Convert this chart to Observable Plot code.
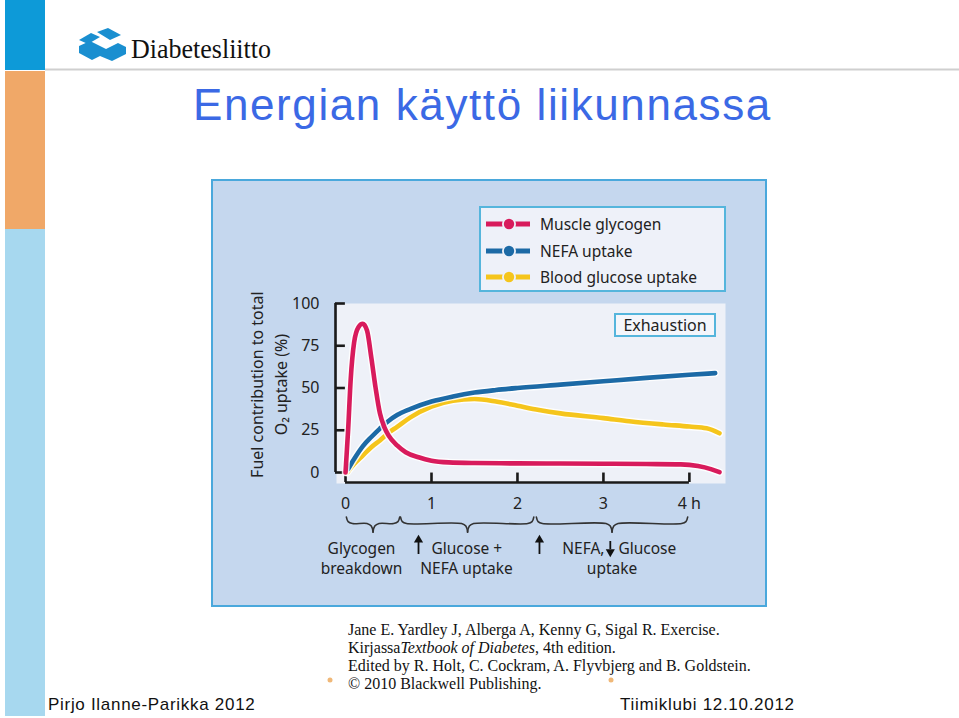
<!DOCTYPE html>
<html><head><meta charset="utf-8">
<script src="https://cdn.jsdelivr.net/npm/d3@7"></script>
<script src="https://cdn.jsdelivr.net/npm/@observablehq/plot@0.6"></script>
<style>
body{margin:0;background:#fff;}
#page{position:relative;width:959px;height:718px;overflow:hidden;background:#fff;font-family:"Noto Sans",sans-serif;}
#deco{position:absolute;left:0;top:0;}
#panel{position:absolute;left:211px;top:179px;width:556px;height:428px;box-sizing:border-box;border:2px solid #4aa8dc;background:#c5d7ee;}
#chart{position:absolute;left:211px;top:179px;width:556px;height:428px;}
#legend{position:absolute;left:479px;top:206px;width:247px;height:86px;box-sizing:border-box;border:2.5px solid #55b5dc;background:#eef1f9;}
.lrow{position:absolute;left:4px;height:20px;display:flex;align-items:center;font-size:15.5px;color:#222;}
.lrow svg{margin-right:9px;}
#exh{position:absolute;left:614px;top:313px;width:102px;height:24px;box-sizing:border-box;border:2px solid #55b5dc;background:#f4f6fb;font-size:16px;line-height:20px;text-align:center;color:#222;}
</style></head>
<body>
<div id="page">
<svg id="deco" width="959" height="718">
  <rect x="5" y="0" width="40" height="70" fill="#0d9ad8"/>
  <rect x="5" y="71" width="40" height="158" fill="#f0a868"/>
  <rect x="5" y="229" width="40" height="487" fill="#a7d8ef"/>
  <line x1="45" x2="959" y1="69.5" y2="69.5" stroke="#cfcfcf" stroke-width="2"/>
  <polygon points="79,40 91,33 100,37 88,44" fill="#1a8fd0"/>
  <polygon points="97,32 108,28 121,35 110,40" fill="#1a8fd0"/>
  <polygon points="79,46 90,41 106,49 118,43 126,47 126,54 112,61 100,56 92,60 79,53" fill="#1a8fd0"/>
  <text x="131" y="58" font-family="Liberation Serif" font-size="27" fill="#111" textLength="140" lengthAdjust="spacingAndGlyphs">Diabetesliitto</text>
  <text x="193" y="120" font-family="Liberation Sans" font-size="44" letter-spacing="1.6" fill="#3b69e5">Energian käyttö liikunnassa</text>
  <g font-family="Liberation Serif" font-size="16" fill="#111">
    <text x="348" y="635">Jane E. Yardley J, Alberga A, Kenny G, Sigal R. Exercise.</text>
    <text x="348" y="653">Kirjassa<tspan font-style="italic">Textbook of Diabetes</tspan>, 4th edition.</text>
    <text x="348" y="671">Edited by R. Holt, C. Cockram, A. Flyvbjerg and B. Goldstein.</text>
    <text x="348" y="689">© 2010 Blackwell Publishing.</text>
  </g>
  <circle cx="330" cy="680" r="2.5" fill="#f0b878"/>
  <circle cx="611" cy="680" r="2.5" fill="#f0b878"/>
  <g font-family="Liberation Sans" font-size="17" letter-spacing="0.7" fill="#111">
    <text x="48" y="710">Pirjo Ilanne-Parikka 2012</text>
    <text x="620" y="710">Tiimiklubi 12.10.2012</text>
  </g>
</svg>
<div id="panel"></div>
<div id="chart"></div>
<div id="legend"></div>
<div id="exh">Exhaustion</div>
</div>
<script>
// ---- data (hours, % of O2 uptake) ----
const muscleGlycogen = [[0,0],[0.03,25],[0.06,55],[0.1,77],[0.15,86],[0.2,88],[0.25,84],[0.3,68],[0.35,50],[0.4,35],[0.45,27],[0.5,22],[0.6,16],[0.7,12],[0.85,9],[1.0,7],[1.2,6],[1.5,5.6],[2.0,5.4],[2.5,5.3],[3.0,5.2],[3.5,5.0],[3.9,4.8],[4.1,3.8],[4.25,2.0],[4.35,0.2]];
const nefaUptake = [[0.03,2],[0.1,8],[0.2,15.5],[0.3,21],[0.4,26],[0.5,30.5],[0.6,34],[0.75,37.5],[1.0,42],[1.25,45],[1.5,47.3],[1.75,48.8],[2.0,50],[2.5,52],[3.0,54],[3.5,56],[4.0,57.8],[4.3,58.8]];
const bloodGlucose = [[0.02,0],[0.1,5],[0.2,10],[0.3,15],[0.4,19],[0.5,23.5],[0.6,27],[0.75,32.5],[1.0,39],[1.25,42.5],[1.5,43.5],[1.75,42],[2.0,39.5],[2.25,37],[2.5,35],[3.0,32.2],[3.3,30.3],[3.7,28.4],[4.0,27.2],[4.2,26.2],[4.35,23.2]];
const seriesNames = ["Muscle glycogen", "NEFA uptake", "Blood glucose uptake"];
const seriesColors = ["#d81b5c", "#1c6aa6", "#f5c51c"];
const yTicks = [0, 25, 50, 75, 100];
const xTicks = [0, 1, 2, 3, 4];
const xTickLabels = ["0", "1", "2", "3", "4 h"];
const yLabel = "Fuel contribution to total\nO₂ uptake (%)";
// phase annotations under the time axis (hours)
const braces = [{from: 0.01, tip: 0.32, to: 0.63}, {from: 0.64, tip: 1.42, to: 2.19}, {from: 2.22, tip: 3.10, to: 3.98}];
const phaseTexts = [
  {x: 0.186, line: 1, text: "Glycogen", anchor: "middle"},
  {x: 0.186, line: 2, text: "breakdown", anchor: "middle"},
  {x: 1.0, line: 1, text: "Glucose +", anchor: "start"},
  {x: 1.407, line: 2, text: "NEFA uptake", anchor: "middle"},
  {x: 3.012, line: 1, text: "NEFA,", anchor: "end"},
  {x: 3.174, line: 1, text: "Glucose", anchor: "start"},
  {x: 3.10, line: 2, text: "uptake", anchor: "middle"}
];
const arrows = [{x: 0.849, dir: "up"}, {x: 2.256, dir: "up"}, {x: 3.08, dir: "down"}];

// ---- layout in data units ----
const xDomain = [-0.105, 4.42];
const yDomain = [-6.5, 100];
const braceTop = -26.4, braceMid = -30.2, braceTipY = -35.3, braceR = 0.07;
const lineY = {1: -45, 2: -57.4};

const rows = [];
[muscleGlycogen, nefaUptake, bloodGlucose].forEach((s, i) => s.forEach(([t, v]) => rows.push({t, v, series: seriesNames[i]})));

const bracePts = [];
braces.forEach((b, k) => {
  const L = [[b.from, braceTop], [b.from + 0.29 * braceR, braceTop - 0.707 * (braceTop - braceMid)], [b.from + braceR, braceMid],
             [b.tip - braceR, braceMid], [b.tip - 0.29 * braceR, braceTipY + 0.707 * (braceMid - braceTipY)], [b.tip, braceTipY]];
  const R = [[b.to, braceTop], [b.to - 0.29 * braceR, braceTop - 0.707 * (braceTop - braceMid)], [b.to - braceR, braceMid],
             [b.tip + braceR, braceMid], [b.tip + 0.29 * braceR, braceTipY + 0.707 * (braceMid - braceTipY)], [b.tip, braceTipY]];
  L.forEach(([x, y]) => bracePts.push({x, y, g: k + "L"}));
  R.forEach(([x, y]) => bracePts.push({x, y, g: k + "R"}));
});

const axisColor = "#1a1a1a";
const lineMarks = [];
[2, 1, 0].forEach(i => {
  const d = rows.filter(r => r.series === seriesNames[i]);
  lineMarks.push(Plot.line(d, {x: "t", y: "v", stroke: "white", strokeWidth: 7.5, strokeOpacity: 0.85, curve: "monotone-x", strokeLinecap: "round"}));
  lineMarks.push(Plot.line(d, {x: "t", y: "v", stroke: seriesColors[i], strokeWidth: 4.6, curve: "monotone-x", strokeLinecap: "round"}));
});

const chart = Plot.plot({
  width: 556, height: 428,
  marginLeft: 125, marginRight: 42, marginTop: 124, marginBottom: 124,
  x: {domain: xDomain},
  y: {domain: yDomain},
  style: {background: "transparent", fontFamily: "'Noto Sans', sans-serif", fontSize: "16px", color: "#222", overflow: "visible"},
  marks: [
    Plot.frame({fill: "#eef1f8"}),
    Plot.ruleX([xDomain[0]], {y1: 0, y2: 100, stroke: axisColor, strokeWidth: 2.6, dx: -1}),
    Plot.ruleY(yTicks, {y: d => d, x1: xDomain[0], x2: xDomain[0] + 0.115, stroke: axisColor, strokeWidth: 2.6, dx: -1}),
    Plot.ruleY([yDomain[0]], {x1: 0, x2: 4, stroke: axisColor, strokeWidth: 2.6, dy: -1}),
    Plot.ruleX(xTicks, {x: d => d, y1: yDomain[0], y2: yDomain[0] + 5.6, stroke: axisColor, strokeWidth: 2.6, dy: -1}),
    Plot.axisY({ticks: yTicks, tickSize: 0, tickPadding: 17, label: null, fontSize: 16}),
    Plot.axisX({ticks: xTicks, tickSize: 0, tickPadding: 14, label: null, fontSize: 16, tickFormat: d => xTickLabels[xTicks.indexOf(d)]}),
    ...lineMarks,
    Plot.text([{label: yLabel, y: 52}], {text: "label", y: "y", frameAnchor: "left", textAnchor: "middle", dx: -69.5, rotate: -90, lineHeight: 1.56, fontSize: 16, fill: "#222"}),
    Plot.line(bracePts, {x: "x", y: "y", z: "g", stroke: "#333", strokeWidth: 1.6, curve: "catmull-rom"}),
    ...["start", "middle", "end"].map(a => Plot.text(phaseTexts.filter(p => p.anchor === a), {x: "x", y: p => lineY[p.line], text: "text", textAnchor: a, fontSize: 15.5, fill: "#222"})),
    Plot.ruleX(arrows, {x: "x", y1: -40.8, y2: d => d.dir === "up" ? -48.5 : -45.6, stroke: "#111", strokeWidth: 1.8}),
    Plot.dot(arrows, {x: "x", y: d => d.dir === "up" ? -39.9 : -47.0, symbol: "triangle", r: 3.4, fill: "#111", stroke: null, rotate: d => d.dir === "up" ? 0 : 180})
  ]
});
document.getElementById("chart").appendChild(chart);

// legend
const leg = document.getElementById("legend");
const rowTops = [6, 32.5, 59];
seriesNames.forEach((name, i) => {
  const row = document.createElement("div");
  row.className = "lrow";
  row.style.top = rowTops[i] + "px";
  row.innerHTML = `<svg width="46" height="14"><line x1="1" x2="45" y1="7" y2="7" stroke="${seriesColors[i]}" stroke-width="5"/><circle cx="24" cy="7" r="7" fill="#eef1f9"/><circle cx="24" cy="7" r="5.2" fill="${seriesColors[i]}"/></svg><span>${name}</span>`;
  leg.appendChild(row);
});
</script>
</body></html>
